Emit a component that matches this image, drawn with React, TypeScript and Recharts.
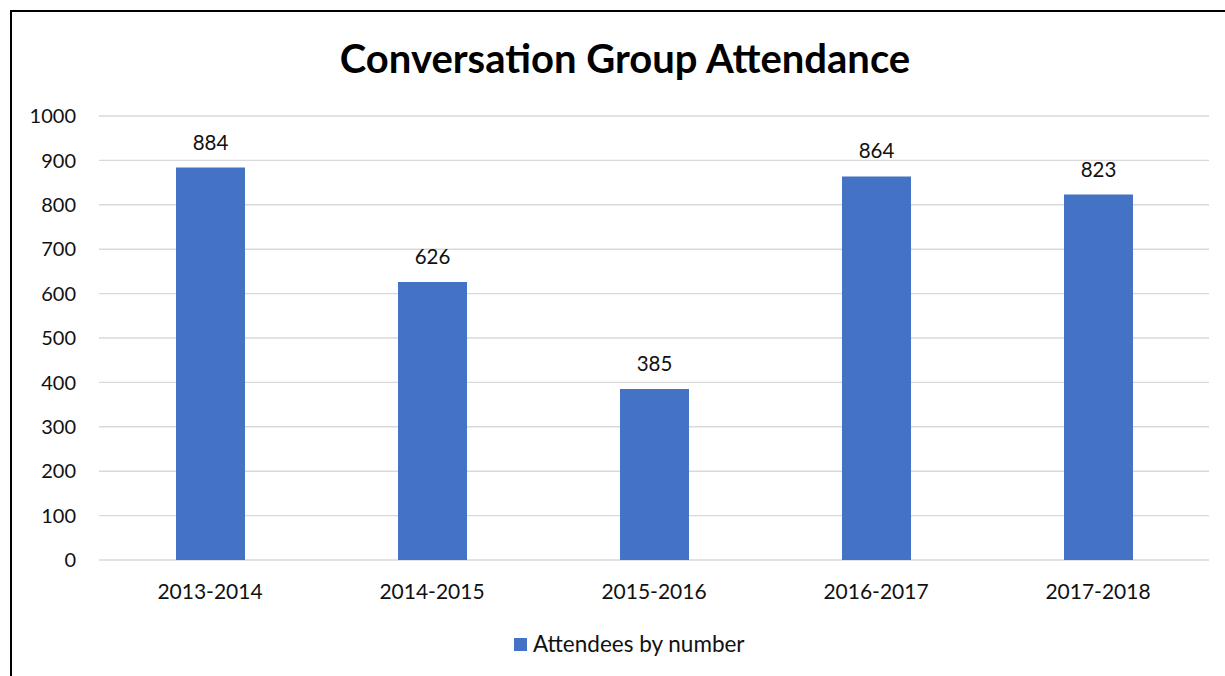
import { BarChart, Bar, XAxis, YAxis, CartesianGrid, LabelList } from "recharts";

const seasons = ["2013-2014", "2014-2015", "2015-2016", "2016-2017", "2017-2018"];
const attendees = [884, 626, 385, 864, 823];
const yTicks = [0, 100, 200, 300, 400, 500, 600, 700, 800, 900, 1000];
const seriesName = "Attendees by number";
const title = "Conversation Group Attendance";

const data = seasons.map((season, i) => ({ season, attendees: attendees[i] }));

const FONT = "Lato, 'Open Sans', sans-serif";
const BLUE = "#4472C4";
const TEXT = "#111";

export default function App() {
  return (
    <div style={{ position: "fixed", left: 0, top: 0, width: 1225, height: 676, background: "#fff", fontFamily: FONT }}>
      {/* frame, runs off the right and bottom edge like the screenshot */}
      <div
        style={{
          position: "absolute",
          left: 10,
          top: 10,
          width: 1260,
          height: 700,
          borderLeft: "2px solid #000",
          borderTop: "2px solid #000",
        }}
      />
      <div
        style={{
          position: "absolute",
          left: 0,
          width: 1250,
          top: 33,
          textAlign: "center",
          fontWeight: 700,
          fontSize: 40,
          lineHeight: "50px",
          color: "#000",
        }}
      >
        {title}
      </div>

      <div style={{ position: "absolute", left: 0, top: 0 }}>
        <BarChart
          width={1225}
          height={676}
          data={data}
          margin={{ top: 116, right: 16, bottom: 56, left: 0 }}
        >
          <CartesianGrid horizontal vertical={false} stroke="#d9d9d9" strokeWidth={1.4} />
          <XAxis
            dataKey="season"
            axisLine={false}
            tickLine={false}
            tickSize={0}
            tickMargin={24}
            height={60}
            tick={{ fontSize: 21, fill: TEXT, fontFamily: FONT }}
          />
          <YAxis
            domain={[0, 1000]}
            ticks={yTicks}
            axisLine={false}
            tickLine={false}
            tickSize={0}
            tickMargin={23}
            width={99}
            tick={{ fontSize: 20, fill: TEXT, fontFamily: FONT }}
          />
          <Bar dataKey="attendees" name={seriesName} fill={BLUE} barSize={69} isAnimationActive={false}>
            <LabelList
              dataKey="attendees"
              position="top"
              offset={18}
              style={{ fontSize: 20.5, fill: TEXT, fontFamily: FONT }}
            />
          </Bar>
        </BarChart>
      </div>

      {/* Legend */}
      <div
        style={{
          position: "absolute",
          left: 514,
          top: 629,
          display: "flex",
          alignItems: "center",
          fontSize: 22.5,
          lineHeight: "30px",
          color: TEXT,
        }}
      >
        <span style={{ display: "inline-block", width: 13, height: 13, background: BLUE, marginRight: 6 }} />
        {seriesName}
      </div>
    </div>
  );
}
